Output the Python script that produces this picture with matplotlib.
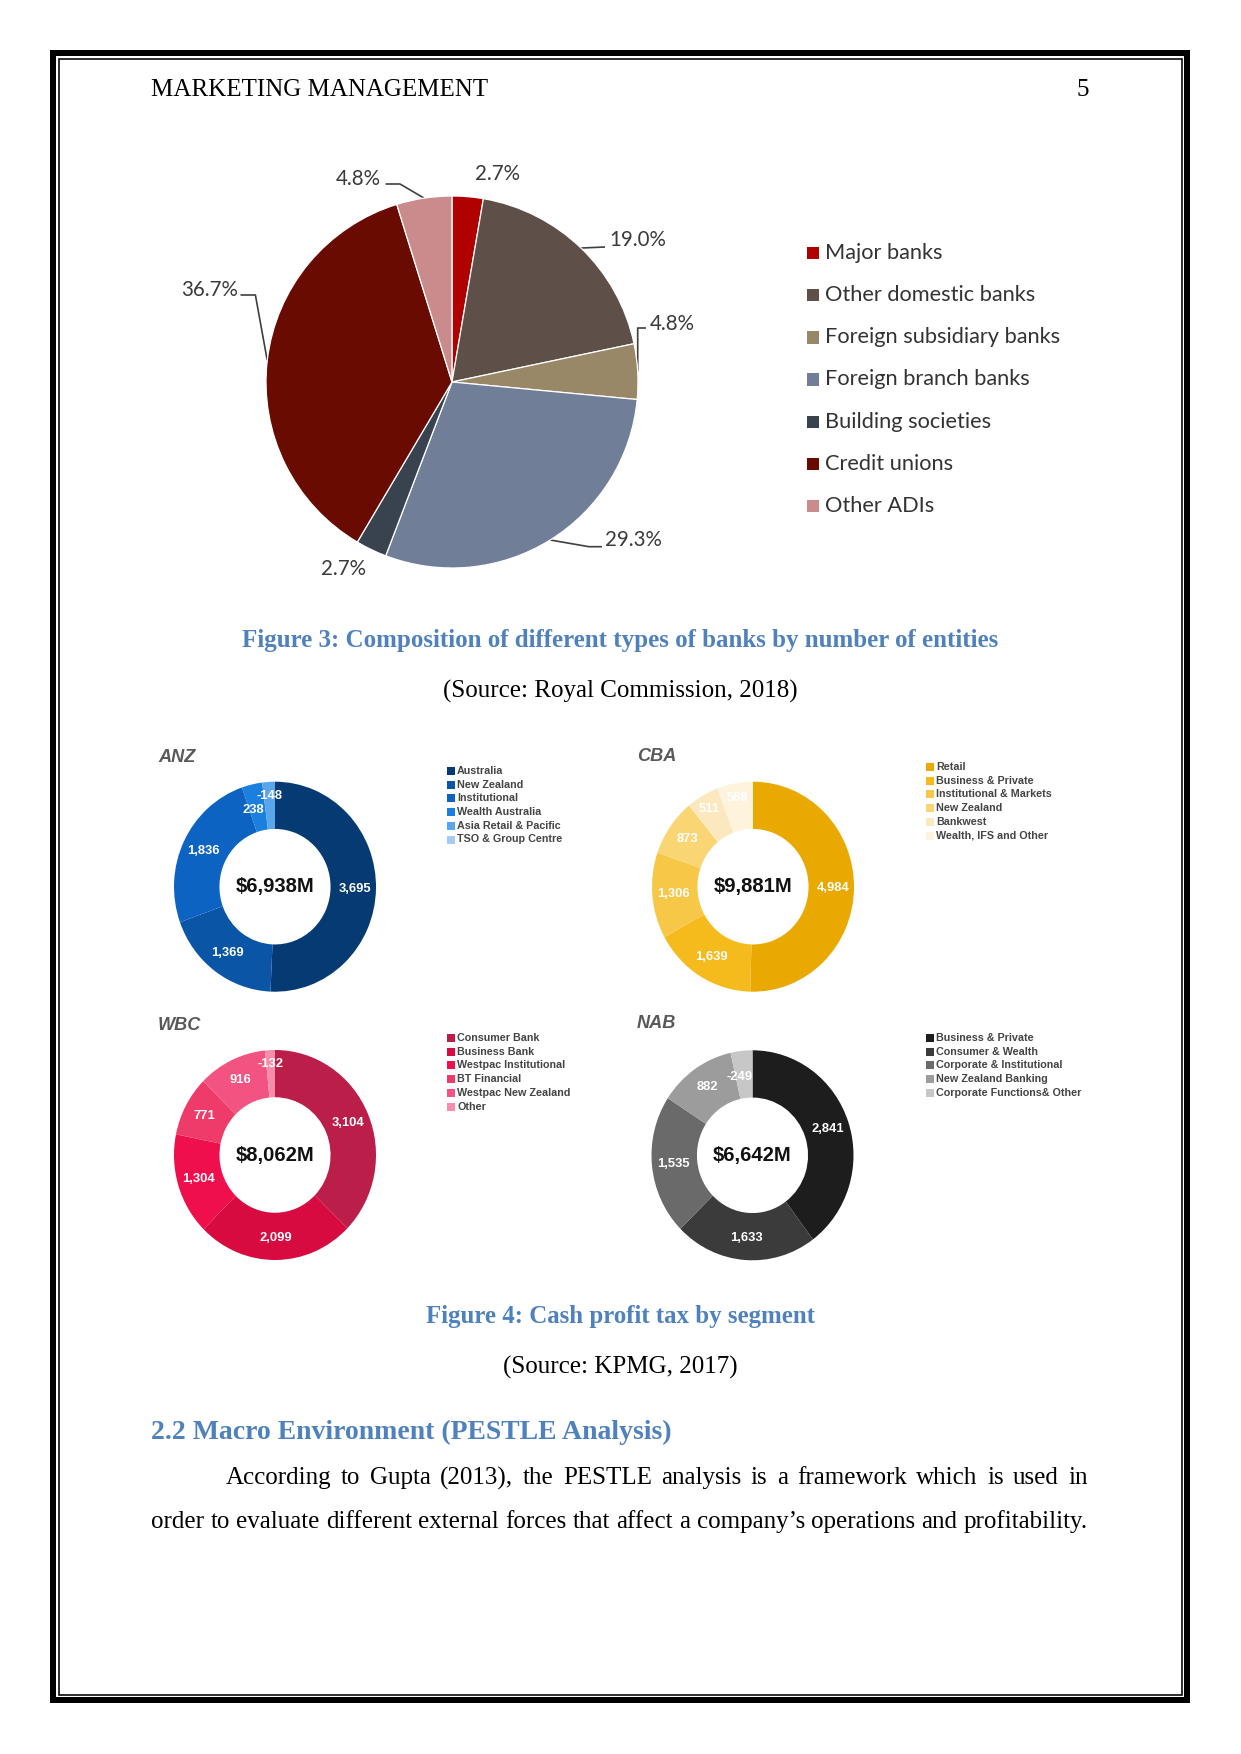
import matplotlib
matplotlib.use('Agg')
import matplotlib.pyplot as plt
from matplotlib.patches import Rectangle
import numpy as np

W, H, DPI = 1241, 1754, 150

# ---------------- data ----------------
header_left = 'MARKETING MANAGEMENT'
page_no = '5'

bank_types = ['Major banks', 'Other domestic banks', 'Foreign subsidiary banks',
              'Foreign branch banks', 'Building societies', 'Credit unions', 'Other ADIs']
bank_shares = [2.7, 19.0, 4.8, 29.3, 2.7, 36.7, 4.8]
bank_colors = ['#B00000', '#5E5049', '#998867', '#717E98', '#38434F', '#6A0B02', '#C98B8B']

fig3_caption = 'Figure 3: Composition of different types of banks by number of entities'
fig3_source = '(Source: Royal Commission, 2018)'

bank_names = ['ANZ', 'CBA', 'WBC', 'NAB']
bank_totals = ['$6,938M', '$9,881M', '$8,062M', '$6,642M']

anz_segments = ['Australia', 'New Zealand', 'Institutional', 'Wealth Australia',
                'Asia Retail & Pacific', 'TSO & Group Centre']
anz_values = [3695, 1369, 1836, 238, -148]
anz_colors = ['#063A72', '#0B55A6', '#0C63C2', '#1A7FDD', '#5AA6EC', '#A6CBF0']

cba_segments = ['Retail', 'Business & Private', 'Institutional & Markets', 'New Zealand',
                'Bankwest', 'Wealth, IFS and Other']
cba_values = [4984, 1639, 1306, 873, 511, 568]
cba_colors = ['#E9A900', '#F5BA1C', '#F7C747', '#F9D574', '#FCE8BE', '#FEF3DD']

wbc_segments = ['Consumer Bank', 'Business Bank', 'Westpac Institutional', 'BT Financial',
                'Westpac New Zealand', 'Other']
wbc_values = [3104, 2099, 1304, 771, 916, -132]
wbc_colors = ['#BC1E4A', '#D70B3F', '#EF0F4C', '#EE3B69', '#F25381', '#F58DAB']

nab_segments = ['Business & Private', 'Consumer & Wealth', 'Corporate & Institutional',
                'New Zealand Banking', 'Corporate Functions& Other']
nab_values = [2841, 1633, 1535, 882, -249]
nab_colors = ['#1D1D1D', '#3B3B3B', '#6A6A6A', '#9C9C9C', '#C7C7C7']

fig4_caption = 'Figure 4: Cash profit tax by segment'
fig4_source = '(Source: KPMG, 2017)'

heading = '2.2 Macro Environment (PESTLE Analysis)'
body_line1 = 'According to Gupta (2013), the PESTLE analysis is a framework which is used in'
body_line2 = "order to evaluate different external forces that affect a company\u2019s operations and profitability."

# ---------------- figure ----------------
fig = plt.figure(figsize=(W / DPI, H / DPI), dpi=DPI)
fig.patch.set_facecolor('white')
bg = fig.add_axes([0, 0, 1, 1])
bg.set_xlim(0, W)
bg.set_ylim(H, 0)
bg.axis('off')
R = fig.canvas.get_renderer()

def width_of(s, fs, **kw):
    t = bg.text(0, 0, s, fontsize=fs, **kw)
    w = t.get_window_extent(renderer=R).width
    t.remove()
    return w

def fit(s, target, **kw):
    return 10.0 * target / width_of(s, 10.0, **kw)

def justified(x0, x1, y, s, fs, **kw):
    words = s.split()
    ws = [width_of(w, fs, **kw) for w in words]
    gap = (x1 - x0 - sum(ws)) / (len(words) - 1)
    x = x0
    for w, ww in zip(words, ws):
        bg.text(x, y, w, fontsize=fs, ha='left', va='center', **kw)
        x += ww + gap

SERIF = dict(family='Liberation Serif')
SANS = dict(family='Liberation Sans')
LATO = dict(family='Lato')
BLUE = '#4F81BD'

# page border
bg.add_patch(Rectangle((53, 53), 1134, 1647, fill=False, lw=6 * 72 / DPI, ec='black'))
bg.add_patch(Rectangle((58.5, 58.5), 1123, 1636.5, fill=False, lw=1.6 * 72 / DPI, ec='black'))

# header
fs_body = fit(fig3_source, 354.5, **SERIF)
bg.text(151, 89.5, header_left, fontsize=fs_body, ha='left', va='center', **SERIF)
bg.text(1089, 89.5, page_no, fontsize=fs_body, ha='right', va='center', **SERIF)

# ---------------- pie chart ----------------
cx, cy, Rp = 452, 382, 186
pad = 1.0
axp = fig.add_axes([(cx - Rp * pad) / W, 1 - (cy + Rp * pad) / H, 2 * Rp * pad / W, 2 * Rp * pad / H])
wedges, _ = axp.pie(bank_shares, colors=bank_colors, startangle=90, counterclock=False,
                    wedgeprops=dict(edgecolor='white', linewidth=0.6))
axp.set_aspect('auto')
axp.set_xlim(-pad, pad)
axp.set_ylim(-pad, pad)
axp.axis('off')

fs_plab = fit('19.0%', 57, **LATO)
pie_label_layout = [
    (497, 173.5, 'center', []),
    (609, 240.5, 'left', [(605, 247)]),
    (650, 324, 'left', [(637.7, 328), (646, 328)]),
    (605, 540.5, 'left', [(589, 546.7), (602, 546.7)]),
    (343.7, 569, 'center', []),
    (238, 290.5, 'right', [(255.4, 295), (240.5, 295)]),
    (381, 179, 'right', [(400, 184), (385.5, 184)]),
]
for w, v, (tx, ty, ha, pts) in zip(wedges, bank_shares, pie_label_layout):
    mid = np.deg2rad((w.theta1 + w.theta2) / 2)
    ex, ey = cx + Rp * np.cos(mid), cy - Rp * np.sin(mid)
    if pts:
        xs = [ex] + [p[0] for p in pts]
        ys = [ey] + [p[1] for p in pts]
        bg.plot(xs, ys, color='#404040', lw=0.8, solid_capstyle='butt')
    bg.text(tx, ty, f'{v:.1f}%', fontsize=fs_plab, ha=ha, va='center', color='#3a3a3a', **LATO)

fs_leg = fit('Other domestic banks', 211, **LATO)
for i, (name, col) in enumerate(zip(bank_types, bank_colors)):
    y = 252.7 + i * 42.2
    bg.add_patch(Rectangle((806.5, y - 6), 12.5, 12.5, fc=col, ec='none'))
    bg.text(825, y, name, fontsize=fs_leg, ha='left', va='center', color='#333333', **LATO)

# captions
fs_cap = fit(fig3_caption, 760, weight='bold', **SERIF)
bg.text(620.5, 641, fig3_caption, fontsize=fs_cap, ha='center', va='center', color=BLUE,
        weight='bold', **SERIF)
bg.text(620.5, 691.5, fig3_source, fontsize=fs_body, ha='center', va='center', **SERIF)

# ---------------- donuts ----------------
donut_data = [
    (anz_segments, anz_values, anz_colors),
    (cba_segments, cba_values, cba_colors),
    (wbc_segments, wbc_values, wbc_colors),
    (nab_segments, nab_values, nab_colors),
]
donut_layout = [
    dict(c=(275, 886.7), title=(158, 757.5), leg=(447, 771)),
    dict(c=(753, 886.7), title=(637, 756.5), leg=(926, 767)),
    dict(c=(275, 1155), title=(158, 1025), leg=(447, 1038)),
    dict(c=(752.5, 1155.3), title=(637, 1024), leg=(926, 1038)),
]
RX, RY = 101, 105

fs_title = fit('WBC', 43.4, weight='bold', style='italic', **SANS)
fs_total = fit('$6,938M', 79, weight='bold', **SANS)
fs_val = fit('3,695', 32.7, weight='bold', **SANS)
fs_dleg = fit('TSO & Group Centre', 106, weight='bold', **SANS)

def label_pos(span, mid_deg):
    # radius and small angular nudge for the value label of a ring slice
    if span < 8:
        return 0.87, 0.0
    if span < 15:
        return 0.76, 3.5
    if span < 25:
        return 0.86, 0.0
    return 0.79, 0.0

for name, total, (segs, vals, cols), lay in zip(bank_names, bank_totals, donut_data, donut_layout):
    dcx, dcy = lay['c']
    ax = fig.add_axes([(dcx - RX) / W, 1 - (dcy + RY) / H, 2 * RX / W, 2 * RY / H])
    ws, _ = ax.pie(np.abs(vals), colors=cols[:len(vals)], startangle=90, counterclock=False,
                   wedgeprops=dict(width=0.45, linewidth=0))
    ax.set_aspect('auto')
    ax.set_xlim(-1, 1)
    ax.set_ylim(-1, 1)
    ax.axis('off')
    for w, v in zip(ws, vals):
        span = abs(w.theta2 - w.theta1)
        mid_deg = (w.theta1 + w.theta2) / 2
        r, nudge = label_pos(span, mid_deg)
        mid = np.deg2rad(mid_deg + nudge)
        ax.text(r * np.cos(mid), r * np.sin(mid), f'{v:,}', fontsize=fs_val, ha='center',
                va='center', color='white', weight='bold', **SANS)
    ax.text(0, 0, total, fontsize=fs_total, ha='center', va='center', color='#111111',
            weight='bold', **SANS)
    tx, ty = lay['title']
    bg.text(tx, ty, name, fontsize=fs_title, ha='left', va='center', color='#595959',
            weight='bold', style='italic', **SANS)
    lx, ly = lay['leg']
    for i, (s, col) in enumerate(zip(segs, cols)):
        y = ly + i * 13.7
        bg.add_patch(Rectangle((lx, y - 4), 8, 8, fc=col, ec='none'))
        bg.text(lx + 10, y, s, fontsize=fs_dleg, ha='left', va='center', color='#444444',
                weight='bold', **SANS)

fs_cap4 = fit(fig4_caption, 390, weight='bold', **SERIF)
bg.text(620, 1317, fig4_caption, fontsize=fs_cap4, ha='center', va='center', color=BLUE,
        weight='bold', **SERIF)
bg.text(620, 1367.5, fig4_source, fontsize=fs_body, ha='center', va='center', **SERIF)

# heading and body
fs_head = fit(heading, 521.5, weight='bold', **SERIF)
bg.text(151, 1432, heading, fontsize=fs_head, ha='left', va='center', color=BLUE,
        weight='bold', **SERIF)
justified(226, 1088, 1478, body_line1, fs_body, **SERIF)
justified(151, 1088, 1522, body_line2, fs_body, **SERIF)

fig.savefig('out.png', dpi=DPI, facecolor='white')
